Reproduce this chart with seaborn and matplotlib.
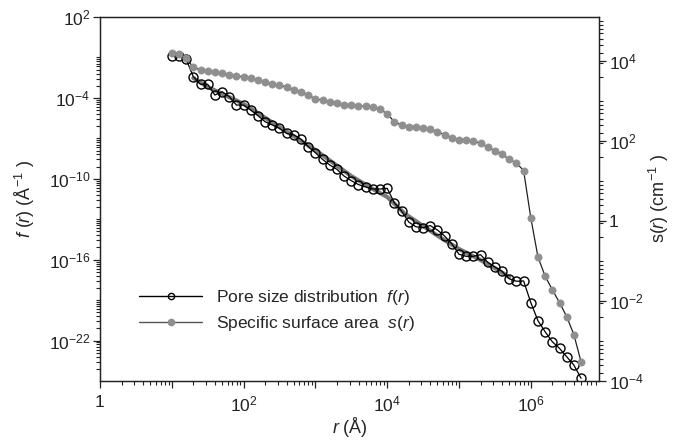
import numpy as np
import pandas as pd
import matplotlib
matplotlib.use("Agg")
import matplotlib.pyplot as plt
import seaborn as sns
from matplotlib.ticker import FixedLocator, FixedFormatter, NullFormatter, LogLocator
from matplotlib.lines import Line2D
from matplotlib import font_manager

# ---------------- data (log10 values) ----------------
log_r = [1.0, 1.1, 1.2, 1.3, 1.4, 1.5, 1.6, 1.7, 1.8, 1.9,
         2.0, 2.1, 2.2, 2.3, 2.4, 2.5, 2.6, 2.7, 2.8, 2.9,
         3.0, 3.1, 3.2, 3.3, 3.4, 3.5, 3.6, 3.7, 3.8, 3.9,
         4.0, 4.1, 4.2, 4.3, 4.4, 4.5, 4.6, 4.7, 4.8, 4.9,
         5.0, 5.1, 5.2, 5.3, 5.4, 5.5, 5.6, 5.7, 5.8, 5.9,
         6.0, 6.1, 6.2, 6.3, 6.4, 6.5, 6.6, 6.7]
log_f = [-0.89, -0.89, -1.14, -2.43, -2.99, -2.99, -3.79, -3.54, -3.91, -4.53,
         -4.53, -4.90, -5.32, -5.77, -6.01, -6.26, -6.63, -6.75, -7.07, -7.62,
         -8.07, -8.56, -8.98, -9.30, -9.80, -10.14, -10.43, -10.61, -10.76, -10.76,
         -10.71, -11.78, -12.39, -13.21, -13.56, -13.63, -13.47, -13.80, -14.25, -14.82,
         -15.60, -15.75, -15.75, -15.63, -16.19, -16.55, -16.87, -17.42, -17.60, -17.58,
         -19.18, -20.53, -21.35, -22.09, -22.58, -23.20, -23.82, -24.80]
log_s = [4.21, 4.17, 4.07, 3.84, 3.78, 3.76, 3.72, 3.70, 3.66, 3.63,
         3.60, 3.57, 3.52, 3.48, 3.43, 3.40, 3.34, 3.28, 3.22, 3.14,
         3.06, 3.02, 2.98, 2.96, 2.91, 2.89, 2.88, 2.87, 2.85, 2.79,
         2.68, 2.48, 2.40, 2.36, 2.34, 2.32, 2.29, 2.23, 2.16, 2.08,
         2.03, 2.02, 1.99, 1.95, 1.84, 1.76, 1.67, 1.54, 1.45, 1.26,
         0.08, -0.90, -1.38, -1.72, -2.04, -2.39, -2.84, -3.52]
# smooth grey curve drawn under f(r)
fit_log_r = [1.3, 1.5, 2.0, 2.5, 3.0, 3.5, 3.8, 4.0, 4.25, 4.5, 4.75, 5.0, 5.25, 5.5, 5.7]
fit_log_f = [-2.53, -3.19, -4.45, -6.16, -7.87, -9.80, -10.76, -11.35, -12.61,
             -13.50, -14.39, -15.21, -15.88, -16.62, -17.29]

x_major_exp = [0, 1, 2, 3, 4, 5, 6]
x_major_labels = ["1", "", "$10^{2}$", "", "$10^{4}$", "", "$10^{6}$"]
yl_major_exp = [2, -4, -10, -16, -22]
yl_major_labels = ["$10^{2}$", "$10^{-4}$", "$10^{-10}$", "$10^{-16}$", "$10^{-22}$"]
yr_major_exp = [4, 2, 0, -2, -4]
yr_major_labels = ["$10^{4}$", "$10^{2}$", "1", "$10^{-2}$", "$10^{-4}$"]

label_f = "Pore size distribution  $\\mathit{f(r)}$"
label_s = "Specific surface area  $\\mathit{s(r)}$"

# ---------------- style ----------------
sns.set_theme(style="ticks")


def available(name):
    try:
        font_manager.findfont(name, fallback_to_default=False)
        return True
    except Exception:
        return False


fam = "Liberation Sans Narrow" if available("Liberation Sans Narrow") else "Liberation Sans"
plt.rcParams["font.family"] = [fam, "DejaVu Sans"]
plt.rcParams.update({
    "mathtext.fontset": "custom",
    "mathtext.rm": fam,
    "mathtext.it": fam + ":italic",
    "mathtext.bf": fam + ":bold",
    "axes.edgecolor": "#222222",
    "axes.linewidth": 0.9,
    "xtick.color": "#222222",
    "ytick.color": "#222222",
    "xtick.labelcolor": "#222222",
    "ytick.labelcolor": "#222222",
})
FS = 12.5

df_f = pd.DataFrame({"r": 10.0 ** np.array(log_r), "f": 10.0 ** np.array(log_f)})
df_s = pd.DataFrame({"r": 10.0 ** np.array(log_r), "s": 10.0 ** np.array(log_s)})
df_fit = pd.DataFrame({"r": 10.0 ** np.array(fit_log_r), "f": 10.0 ** np.array(fit_log_f)})

W, H = 673, 444
fig = plt.figure(figsize=(W / 100, H / 100), dpi=100)
ax = fig.add_axes([100 / W, 1 - 381 / H, 499 / W, 364 / H])
ax.set_xscale("log")
ax.set_yscale("log")
ax2 = ax.twinx()
ax2.set_yscale("log")

sns.lineplot(data=df_fit, x="r", y="f", ax=ax, color="#7a7a7a", lw=3.0, sort=False,
             legend=False, zorder=2)
sns.lineplot(data=df_f, x="r", y="f", ax=ax, color="black", lw=0.9, sort=False,
             marker="o", markersize=6.5, markerfacecolor="none", markeredgecolor="black",
             markeredgewidth=1.0, legend=False, zorder=3)
sns.lineplot(data=df_s, x="r", y="s", ax=ax2, color="#222222", lw=0.9, sort=False,
             marker="o", markersize=5.2, markerfacecolor="#8f8f8f", markeredgecolor="#8f8f8f",
             markeredgewidth=0.5, legend=False, zorder=3)

ax.set_xlim(1, 10 ** 6.95)
ax.set_ylim(1e-25, 1e2)
ax2.set_ylim(1e-4, 10 ** 5.1)

# x ticks
ax.xaxis.set_major_locator(FixedLocator([10.0 ** e for e in x_major_exp]))
ax.xaxis.set_major_formatter(FixedFormatter(x_major_labels))
ax.xaxis.set_minor_locator(LogLocator(base=10, subs=np.arange(2, 10)))
ax.xaxis.set_minor_formatter(NullFormatter())


def grouped_minor(tops, span):
    ticks = []
    for U in tops:
        ticks.append(10.0 ** U)
        for k in range(2, 10):
            ticks.append(10.0 ** (U - span + span * np.log10(k)))
    return ticks


# left y ticks: labelled majors every 6 decades, minor groups every 3 decades
ax.yaxis.set_major_locator(FixedLocator([10.0 ** e for e in yl_major_exp]))
ax.yaxis.set_major_formatter(FixedFormatter(yl_major_labels))
ax.yaxis.set_minor_locator(FixedLocator(grouped_minor(range(-1, -23, -3), 3)))
ax.yaxis.set_minor_formatter(NullFormatter())

# right y ticks: labelled majors every 2 decades, minor groups from odd decades
ax2.yaxis.set_major_locator(FixedLocator([10.0 ** e for e in yr_major_exp]))
ax2.yaxis.set_major_formatter(FixedFormatter(yr_major_labels))
ax2.yaxis.set_minor_locator(FixedLocator(grouped_minor([5, 3, 1, -1, -3], 2)))
ax2.yaxis.set_minor_formatter(NullFormatter())

for a in (ax, ax2):
    a.tick_params(which="major", length=5, width=0.9, labelsize=FS, direction="out", pad=2)
    a.tick_params(which="minor", length=3, width=0.8, direction="out")
ax.tick_params(axis="x", which="major", pad=5)
ax.tick_params(axis="y", which="both", right=False)
ax2.tick_params(axis="y", which="both", left=False, right=True)

for a in (ax, ax2):
    for sp in a.spines.values():
        sp.set_visible(True)
        sp.set_color("#222222")
        sp.set_linewidth(0.9)

ax.set_xlabel("$\\mathit{r}$ (Å)", fontsize=FS + 0.5, labelpad=0)
ax.set_ylabel("$\\mathit{f}$ ($\\mathit{r}$) (Å$^{-1}$ )", fontsize=FS + 0.5, labelpad=8)
ax2.set_ylabel("s($\\mathit{r}$) (cm$^{-1}$ )", fontsize=FS + 0.5, labelpad=2)

handles = [
    Line2D([], [], color="black", lw=1.0, marker="o", markersize=4.5,
           markerfacecolor="none", markeredgecolor="black", markeredgewidth=1.0),
    Line2D([], [], color="#555555", lw=1.0, marker="o", markersize=4.5,
           markerfacecolor="#8f8f8f", markeredgecolor="#8f8f8f"),
]
ax2.legend(handles, [label_f, label_s], loc="upper left", bbox_to_anchor=(0.065, 0.275),
           frameon=False, fontsize=FS, handlelength=3.6, handletextpad=0.8,
           labelspacing=0.4, borderaxespad=0)

fig.savefig("out.png", dpi=100)
